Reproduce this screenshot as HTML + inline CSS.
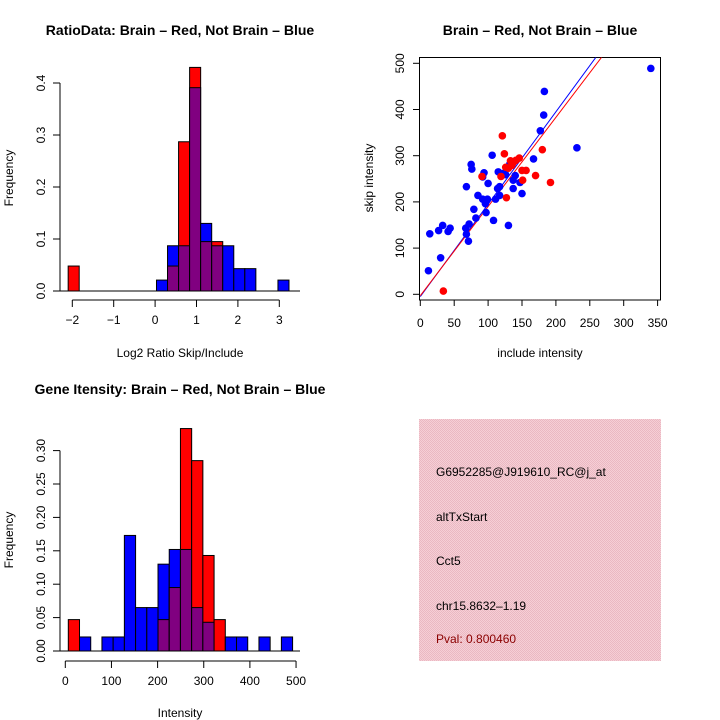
<!DOCTYPE html>
<html><head><meta charset="utf-8"><style>
body{margin:0;background:#fff}
svg{display:block;font-family:"Liberation Sans",sans-serif}
</style></head><body>
<svg id="s" width="720" height="720" xmlns="http://www.w3.org/2000/svg">
<rect width="720" height="720" fill="#fff"/>
<defs><pattern id="pk" width="2" height="2" patternUnits="userSpaceOnUse"><rect width="2" height="2" fill="#f6cfd6"/><rect width="1" height="1" fill="#eab8c2"/><rect x="1" y="1" width="1" height="1" fill="#eab8c2"/></pattern></defs>
<g>
<rect x="419" y="419" width="242" height="242" fill="url(#pk)"/>
<text x="436" y="476" font-size="12">G6952285@J919610_RC@j_at</text>
<text x="436" y="521" font-size="12">altTxStart</text>
<text x="436" y="565" font-size="12">Cct5</text>
<text x="436" y="610" font-size="12">chr15.8632–1.19</text>
<text x="436" y="643" font-size="12" fill="#8b0000">Pval: 0.800460</text>
</g>
</svg>
<script>
// ratio histogram
const ratioBinStart=-2.1, ratioBinWidth=0.2667;
const ratioRed=[0.048,0,0,0,0,0,0,0,0,0.048,0.287,0.43,0.095,0.095,0,0,0,0,0,0];
const ratioBlue=[0,0,0,0,0,0,0,0,0.021,0.087,0.087,0.391,0.13,0.087,0.087,0.043,0.043,0,0,0.021];
const ratioXTicks=[-2,-1,0,1,2,3];
const ratioXLabels=["\u22122","\u22121","0","1","2","3"];
const ratioYTicks=[0,0.1,0.2,0.3,0.4];
const ratioYLabels=["0.0","0.1","0.2","0.3","0.4"];
// intensity histogram
const intBinStart=6.5, intBinWidth=24.3;
const intRed=[0.047,0,0,0,0,0,0,0,0.047,0.095,0.333,0.285,0.143,0.047,0,0,0,0,0,0];
const intBlue=[0,0.021,0,0.021,0.021,0.173,0.065,0.065,0.13,0.152,0.152,0.065,0.043,0,0.021,0.021,0,0.021,0,0.021];
const intXTicks=[0,100,200,300,400,500];
const intYTicks=[0,0.05,0.10,0.15,0.20,0.25,0.30];
const intYLabels=["0.00","0.05","0.10","0.15","0.20","0.25","0.30"];
// scatter
const blueX=[340,183,182,177,231,167,106,75,76,132,94,92,115,123,126,140,137,147,100,68,137,114,117,150,85,117,92,99,111,96,79,97,82,108,130,72,67,33,44,41,27,14,68,71,30,12];
const blueY=[489,439,388,354,317,293,301,281,271,282,263,254,265,262,259,257,247,242,240,233,229,229,233,218,214,214,206,206,206,196,184,177,165,160,149,152,143,149,143,136,138,131,130,115,79,51];
const redX=[121,124,180,146,141,137,133,135,126,130,150,156,119,91,170,151,192,127,34];
const redY=[343,304,313,295,290,285,289,279,275,273,268,268,255,255,257,247,242,209,7];
const blueFit=[-5,2.0];
const redFit=[-3,1.93];
const scXTicks=[0,50,100,150,200,250,300,350];
const scYTicks=[0,100,200,300,400,500];

const S=document.getElementById('s'), NS='http://www.w3.org/2000/svg';
function mk(t,a,p){const e=document.createElementNS(NS,t);for(const k in a)e.setAttribute(k,a[k]);(p||S).appendChild(e);return e;}
function txt(x,y,s,opt,p){const e=mk('text',Object.assign({x:x,y:y,'font-size':12,'text-anchor':'middle'},opt||{}),p);e.textContent=s;return e;}

function hist(o){
  const g=mk('g',{});
  
  
  const X=v=>o.x0+(v-o.xa)*o.xs, Y=v=>o.y0-v*o.ys;
  for(let i=0;i<o.red.length;i++){
    const r=o.red[i],b=o.blue[i];if(!r&&!b)continue;
    const x1=X(o.bs+i*o.bw),x2=X(o.bs+(i+1)*o.bw);
    const hi=Math.max(r,b),lo=Math.min(r,b);
    const bar=mk('rect',{x:x1,y:Y(hi),width:x2-x1,height:Y(0)-Y(hi),fill:r>=b?'#ff0000':'#0000ff',stroke:'#000','stroke-width':1},g);
    
    
    if(lo>0){const pb=mk('rect',{x:x1,y:Y(lo),width:x2-x1,height:Y(0)-Y(lo),fill:'#800080',stroke:'#000','stroke-width':1},g);
      
      }
  }
  const ya=mk('g',{},g);
  
  
  mk('line',{x1:60,x2:60,y1:Y(0),y2:Y(o.yt[o.yt.length-1]),stroke:'#000'},ya);
  o.yt.forEach((t,i)=>{mk('line',{x1:53,x2:60,y1:Y(t),y2:Y(t),stroke:'#000'},ya);
    txt(0,0,o.yl[i],{transform:`translate(45,${Y(t)}) rotate(-90)`},ya);});
  const xa=mk('g',{},g);
  
  
  const ay=o.axY;
  mk('line',{x1:X(o.xt[0]),x2:X(o.xt[o.xt.length-1]),y1:ay,y2:ay,stroke:'#000'},xa);
  o.xt.forEach((t,i)=>{mk('line',{x1:X(t),x2:X(t),y1:ay,y2:ay+7,stroke:'#000'},xa);txt(X(t),ay+24,o.xl?o.xl[i]:String(t),{},xa);});
  mk('line',{x1:60,x2:300,y1:Y(0),y2:Y(0),stroke:'#000'},g);
}
hist({name:'ratio-histogram',red:ratioRed,blue:ratioBlue,bs:ratioBinStart,bw:ratioBinWidth,x0:72.3,xa:-2,xs:41.4,y0:291,ys:520,xt:ratioXTicks,xl:ratioXLabels,yt:ratioYTicks,yl:ratioYLabels,axY:300});
hist({name:'intensity-histogram',red:intRed,blue:intBlue,bs:intBinStart,bw:intBinWidth,x0:65.3,xa:0,xs:0.4615,y0:651,ys:668,xt:intXTicks,yt:intYTicks,yl:intYLabels,axY:661});

[[180,35,'RatioData: Brain – Red, Not Brain – Blue','ratio-title'],[540,35,'Brain – Red, Not Brain – Blue','scatter-title'],[180,394,'Gene Itensity: Brain – Red, Not Brain – Blue','intensity-title']].forEach(a=>{
  const t=txt(a[0],a[1],a[2],{'font-size':14,'font-weight':'bold'});
  
  });
[[180,357,'Log2 Ratio Skip/Include','ratio-x-title'],[540,357,'include intensity','scatter-x-title'],[180,717,'Intensity','intensity-x-title']].forEach(a=>{
  const t=txt(a[0],a[1],a[2]);
  
  });
[[13,178,'Frequency','ratio-y-title'],[373,178,'skip intensity','scatter-y-title'],[13,540,'Frequency','intensity-y-title']].forEach(a=>{
  const t=txt(0,0,a[2],{transform:`translate(${a[0]},${a[1]}) rotate(-90)`});
  
  });

const sg=mk('g',{});


const SX=v=>420.3+v*0.678, SY=v=>294.3-v*0.462;
mk('rect',{x:419.5,y:57.5,width:241,height:242.5,fill:'none',stroke:'#000'},sg);
const cp=mk('clipPath',{id:'cp'},sg);mk('rect',{x:419.5,y:57.5,width:241,height:242.5},cp);
function fit(f,c,n){const l=mk('line',{x1:SX(0),y1:SY(f[0]),x2:SX(350),y2:SY(f[0]+f[1]*350),stroke:c,'stroke-width':1,'clip-path':'url(#cp)'},sg);
  
  }
fit(blueFit,'#0000ff','blue-fit-line');fit(redFit,'#ff0000','red-fit-line');
blueX.forEach((x,i)=>{const c=mk('circle',{cx:SX(x),cy:SY(blueY[i]),r:3.8,fill:'#0000ff'},sg);
  
  });
redX.forEach((x,i)=>{const c=mk('circle',{cx:SX(x),cy:SY(redY[i]),r:3.8,fill:'#ff0000'},sg);
  
  });
const sxa=mk('g',{},sg);


mk('line',{x1:SX(0),x2:SX(350),y1:300,y2:300,stroke:'#000'},sxa);
scXTicks.forEach(t=>{mk('line',{x1:SX(t),x2:SX(t),y1:300,y2:306,stroke:'#000'},sxa);txt(SX(t),327,String(t),{},sxa);});
const sya=mk('g',{},sg);


scYTicks.forEach(t=>{mk('line',{x1:413,x2:419.5,y1:SY(t),y2:SY(t),stroke:'#000'},sya);txt(0,0,String(t),{transform:`translate(404,${SY(t)}) rotate(-90)`},sya);});
</script>
</body></html>
